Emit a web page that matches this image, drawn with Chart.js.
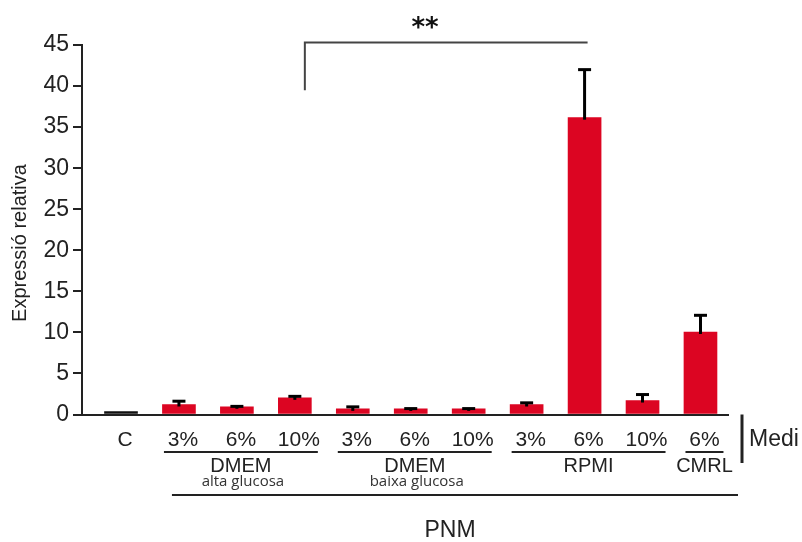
<!DOCTYPE html>
<html>
<head>
<meta charset="utf-8">
<script src="https://cdn.jsdelivr.net/npm/chart.js@4/dist/chart.umd.min.js"></script>
<style>
  html, body { margin: 0; padding: 0; background: #fff; }
  #wrap { width: 802px; height: 542px; position: relative; }
</style>
</head>
<body>
<div id="wrap"><canvas id="c" width="802" height="542"></canvas></div>
<script>
// Bar labels (medium concentration) and relative expression values
const categories = ['C', '3%', '6%', '10%', '3%', '6%', '10%', '3%', '6%', '10%', '6%'];
const values = [0.35, 1.22, 0.94, 2.03, 0.69, 0.68, 0.68, 1.22, 36.15, 1.70, 10.05];
const errors = [0, 0.40, 0.05, 0.18, 0.24, 0.04, 0.04, 0.20, 5.85, 0.73, 2.03];
const yTicks = [0, 5, 10, 15, 20, 25, 30, 35, 40, 45];

// Culture media groups (first and last bar index of each group)
const groupNames = ['DMEM', 'DMEM', 'RPMI', 'CMRL'];
const groupSubtitles = ['alta glucosa', 'baixa glucosa', '', ''];
const groupFirst = [1, 4, 7, 10];
const groupLast = [3, 6, 9, 10];

// Significance bracket between two bars
const sigFrom = 3;
const sigTo = 8;
const sigLabel = '**';

const RED = '#dc0522';
const INK = '#222222';
const SANS = '"Liberation Sans", Arial, sans-serif';

const errorBars = {
  id: 'errorBars',
  afterDatasetsDraw(chart) {
    const ctx = chart.ctx;
    const y = chart.scales.y;
    const meta = chart.getDatasetMeta(0);
    ctx.save();
    ctx.strokeStyle = '#000';
    meta.data.forEach((bar, i) => {
      if (!errors[i]) return;
      const top = y.getPixelForValue(values[i]);
      const hi = y.getPixelForValue(values[i] + errors[i]);
      ctx.lineWidth = 3;
      ctx.beginPath();
      ctx.moveTo(bar.x, top + 2);
      ctx.lineTo(bar.x, hi);
      ctx.stroke();
      ctx.beginPath();
      ctx.moveTo(bar.x - 6.5, hi);
      ctx.lineTo(bar.x + 6.5, hi);
      ctx.stroke();
    });
    ctx.restore();
  }
};

const annotations = {
  id: 'annotations',
  afterDraw(chart) {
    const ctx = chart.ctx;
    const x = chart.scales.x;
    const y = chart.scales.y;
    const area = chart.chartArea;
    ctx.save();

    // y axis title
    ctx.fillStyle = INK;
    ctx.font = '20px ' + SANS;
    ctx.textAlign = 'center';
    ctx.textBaseline = 'middle';
    ctx.translate(20, 243);
    ctx.rotate(-Math.PI / 2);
    ctx.fillText('Expressió relativa', 0, 0);
    ctx.setTransform(1, 0, 0, 1, 0, 0);

    // bar labels
    ctx.font = '21px ' + SANS;
    ctx.fillStyle = INK;
    categories.forEach((c, i) => {
      ctx.fillText(c, x.getPixelForValue(i) + 4, 440);
    });

    // group underlines and names
    ctx.strokeStyle = INK;
    ctx.lineWidth = 2;
    groupNames.forEach((g, k) => {
      const x0 = x.getPixelForValue(groupFirst[k]) - 15;
      const x1 = x.getPixelForValue(groupLast[k]) + 23;
      ctx.beginPath();
      ctx.moveTo(x0, 452);
      ctx.lineTo(x1, 452);
      ctx.stroke();
      ctx.font = '20px ' + SANS;
      ctx.fillText(g, (x0 + x1) / 2, 466);
      if (groupSubtitles[k]) {
        ctx.font = '15px "Open Sans", sans-serif';
        ctx.fillStyle = '#333';
        ctx.fillText(groupSubtitles[k], (x0 + x1) / 2 + 2, 482);
        ctx.fillStyle = INK;
      }
    });

    // PNM line spanning all treated groups
    ctx.beginPath();
    ctx.moveTo(x.getPixelForValue(groupFirst[0]) - 7, 495);
    ctx.lineTo(area.right + 10, 495);
    ctx.stroke();
    ctx.font = '23px ' + SANS;
    ctx.fillText('PNM', 450, 531);

    // "Medi" marker
    ctx.lineWidth = 3;
    ctx.beginPath();
    ctx.moveTo(742, area.bottom);
    ctx.lineTo(742, 463);
    ctx.stroke();
    ctx.textAlign = 'left';
    ctx.fillText('Medi', 749, 440);

    // significance bracket
    const bx0 = x.getPixelForValue(sigFrom) + 10;
    const bx1 = x.getPixelForValue(sigTo) + 3;
    const by = y.getPixelForValue(45.3);
    const byLeg = y.getPixelForValue(39.5);
    ctx.strokeStyle = '#444';
    ctx.lineWidth = 2;
    ctx.beginPath();
    ctx.moveTo(bx0, byLeg);
    ctx.lineTo(bx0, by);
    ctx.lineTo(bx1, by);
    ctx.stroke();
    ctx.fillStyle = '#111';
    ctx.font = 'bold 26px "DejaVu Sans", sans-serif';
    ctx.textAlign = 'center';
    ctx.fillText(sigLabel, 425, 29);

    ctx.restore();
  }
};

new Chart(document.getElementById('c'), {
  type: 'bar',
  data: {
    datasets: [{
      data: values.map((v, i) => ({ x: i, y: v })),
      backgroundColor: values.map((v, i) => (i === 0 ? '#111' : RED)),
      borderWidth: 0,
      barThickness: 33
    }]
  },
  options: {
    responsive: false,
    animation: false,
    layout: { padding: { top: 45, right: 74, left: 0, bottom: 0 } },
    plugins: { legend: { display: false }, tooltip: { enabled: false } },
    scales: {
      x: {
        type: 'linear',
        offset: false,
        min: -0.673,
        max: 10.475,
        ticks: { display: false },
        grid: { display: false, drawTicks: false },
        border: { display: true, color: INK, width: 2 },
        afterFit(s) { s.height = 127.5; }
      },
      y: {
        min: 0,
        max: 45,
        afterBuildTicks(s) { s.ticks = yTicks.map(v => ({ value: v })); },
        ticks: {
          color: INK,
          font: { family: SANS, size: 23 },
          padding: 4
        },
        grid: { drawOnChartArea: false, drawTicks: true, tickLength: 9, color: INK, lineWidth: 2 },
        border: { display: true, color: INK, width: 2 },
        afterFit(s) { s.width = 82; }
      }
    }
  },
  plugins: [errorBars, annotations]
});
</script>
</body>
</html>
